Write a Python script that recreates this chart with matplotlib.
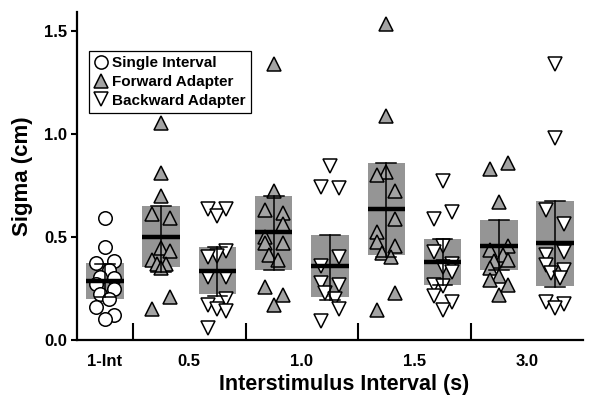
import numpy as np
import matplotlib.pyplot as plt
from matplotlib.lines import Line2D

plt.rcParams['font.family'] = ['Liberation Sans', 'DejaVu Sans']
plt.rcParams['font.weight'] = 'bold'

# ------- data -------
conditions = ["1-Int", "F 0.5", "B 0.5", "F 1.0", "B 1.0", "F 1.5", "B 1.5", "F 3.0", "B 3.0"]
kinds = ["single", "fwd", "bwd", "fwd", "bwd", "fwd", "bwd", "fwd", "bwd"]
group_labels = ["1-Int", "0.5", "1.0", "1.5", "3.0"]

single = [0.59, 0.45, 0.375, 0.385, 0.34, 0.305, 0.30, 0.27, 0.245, 0.225, 0.20, 0.16, 0.12, 0.10]
single_jit = [0, 0, -1, 1, 0.5, -0.5, 1, -1, 1, -0.5, 0.5, -1, 1, 0]

fwd_05 = [1.05, 0.81, 0.70, 0.61, 0.59, 0.445, 0.43, 0.39, 0.37, 0.37, 0.35, 0.21, 0.15]
fwd_05_jit = [0, 0, 0, -1, 1, 0, 1, -1, -0.5, 0.5, 0, 1, -1]
bwd_05 = [0.635, 0.60, 0.635, 0.43, 0.405, 0.40, 0.305, 0.305, 0.20, 0.17, 0.15, 0.14, 0.06]
bwd_05_jit = [-1, 0, 1, 1, 0, -1, -1, 1, 1, -1, 0, 1, -1]

fwd_10 = [1.34, 0.72, 0.63, 0.615, 0.56, 0.50, 0.47, 0.47, 0.41, 0.39, 0.255, 0.22, 0.17]
fwd_10_jit = [0, 0, -1, 1, 1, -1, -1, 1, -0.5, 0.5, -1, 1, 0]
bwd_10 = [0.845, 0.74, 0.735, 0.40, 0.36, 0.275, 0.265, 0.23, 0.20, 0.15, 0.09]
bwd_10_jit = [0, -1, 1, 1, -1, -1, 1, -0.5, 0.5, 1, -1]

fwd_15 = [1.53, 1.085, 0.815, 0.80, 0.72, 0.585, 0.525, 0.475, 0.455, 0.42, 0.40, 0.23, 0.145]
fwd_15_jit = [0, 0, 0, -1, 1, 1, -1, -1, 1, -0.5, 0.5, 1, -1]
bwd_15 = [0.77, 0.62, 0.585, 0.455, 0.425, 0.37, 0.355, 0.33, 0.265, 0.26, 0.215, 0.185, 0.145]
bwd_15_jit = [0, 1, -1, 0, -1, 1, 0, 1, -1, 0, -1, 1, 0]

fwd_30 = [0.86, 0.83, 0.67, 0.455, 0.435, 0.41, 0.39, 0.385, 0.35, 0.31, 0.29, 0.265, 0.22]
fwd_30_jit = [1, -1, 0, 1, -1, 0.5, 1, -0.5, -1, 0, -1, 1, 0]
bwd_30 = [1.34, 0.98, 0.63, 0.56, 0.425, 0.41, 0.365, 0.34, 0.325, 0.30, 0.185, 0.175, 0.155]
bwd_30_jit = [0, 0, -1, 1, 1, -1, -1, 1, -0.5, 0.5, -1, 1, 0]

values = [single, fwd_05, bwd_05, fwd_10, bwd_10, fwd_15, bwd_15, fwd_30, bwd_30]
jitters = [single_jit, fwd_05_jit, bwd_05_jit, fwd_10_jit, bwd_10_jit,
           fwd_15_jit, bwd_15_jit, fwd_30_jit, bwd_30_jit]

box_lo = [0.20, 0.353, 0.222, 0.34, 0.21, 0.413, 0.267, 0.34, 0.262]
box_hi = [0.375, 0.65, 0.453, 0.70, 0.51, 0.857, 0.49, 0.58, 0.675]
medians = [0.287, 0.50, 0.335, 0.523, 0.36, 0.634, 0.38, 0.456, 0.469]
err_lo = [0.21, 0.33, 0.214, 0.34, 0.195, 0.40, 0.267, 0.34, 0.259]
err_hi = [0.37, 0.65, 0.453, 0.70, 0.51, 0.857, 0.49, 0.58, 0.675]

# ------- plotting -------
fig = plt.figure(figsize=(6, 4.08), dpi=100)
ax = fig.add_axes([0.128, 0.1667, 0.844, 0.804])

box_w = 0.665
cap_w = 0.35
jit_w = 0.16
ms = 10.5
styles = {
    "single": dict(marker="o", mfc="white"),
    "fwd": dict(marker="^", mfc="#a3a3a3"),
    "bwd": dict(marker="v", mfc="white"),
}

for i in range(len(conditions)):
    ax.add_patch(plt.Rectangle((i - box_w / 2, box_lo[i]), box_w, box_hi[i] - box_lo[i],
                               facecolor="#959595", edgecolor="none", zorder=1))
    xs = i + jit_w * np.array(jitters[i])
    ax.plot(xs, values[i], ls="none", ms=ms if kinds[i] != "single" else ms - 0.8,
            mec="black", mew=1.1, zorder=2, **styles[kinds[i]])
    ax.plot([i - box_w / 2, i + box_w / 2], [medians[i], medians[i]], color="black", lw=3.2,
            solid_capstyle="butt", zorder=3)
    ax.plot([i, i], [err_lo[i], err_hi[i]], color="black", lw=1.1, zorder=3)
    for e in (err_lo[i], err_hi[i]):
        ax.plot([i - cap_w / 2, i + cap_w / 2], [e, e], color="black", lw=1.1, zorder=3)

ax.set_xlim(-0.5, 8.5)
ax.set_ylim(0, 1.59)
for s in ["top", "right"]:
    ax.spines[s].set_visible(False)
for s in ["left", "bottom"]:
    ax.spines[s].set_linewidth(1.6)

ax.set_yticks([0.0, 0.5, 1.0, 1.5])
ax.set_yticklabels(["0.0", "0.5", "1.0", "1.5"])
ax.tick_params(axis="y", direction="out", length=4, width=1.5, labelsize=12, pad=3)

ax.set_xticks([0.5, 2.5, 4.5, 6.5])
ax.set_xticklabels([])
ax.tick_params(axis="x", which="major", direction="in", length=12.5, width=1.5)
ax.set_xticks([0, 1.5, 3.5, 5.5, 7.5], minor=True)
ax.set_xticklabels(group_labels, minor=True)
ax.tick_params(axis="x", which="minor", length=0, labelsize=12, pad=10)

ax.set_xlabel("Interstimulus Interval (s)", fontsize=15.5, fontweight="bold", labelpad=4)
ax.xaxis.set_label_coords(0.528, -0.105)
ax.set_ylabel("Sigma (cm)", fontsize=16, fontweight="bold", labelpad=8)

handles = [
    Line2D([], [], ls="none", marker="o", mfc="white", mec="black", mew=1.1, ms=9.5),
    Line2D([], [], ls="none", marker="^", mfc="#a3a3a3", mec="black", mew=1.1, ms=10),
    Line2D([], [], ls="none", marker="v", mfc="white", mec="black", mew=1.1, ms=10),
]
leg = ax.legend(handles, ["Single Interval", "Forward Adapter", "Backward Adapter"],
                loc="upper left", bbox_to_anchor=(0.0237, 0.881), borderaxespad=0,
                prop=dict(size=11, weight="bold"), handlelength=0.9, handletextpad=0.3,
                labelspacing=0.3, borderpad=0.35, fancybox=False, framealpha=1)
leg.get_frame().set_edgecolor("black")
leg.get_frame().set_linewidth(0.9)

plt.savefig("out.png", dpi=100)
